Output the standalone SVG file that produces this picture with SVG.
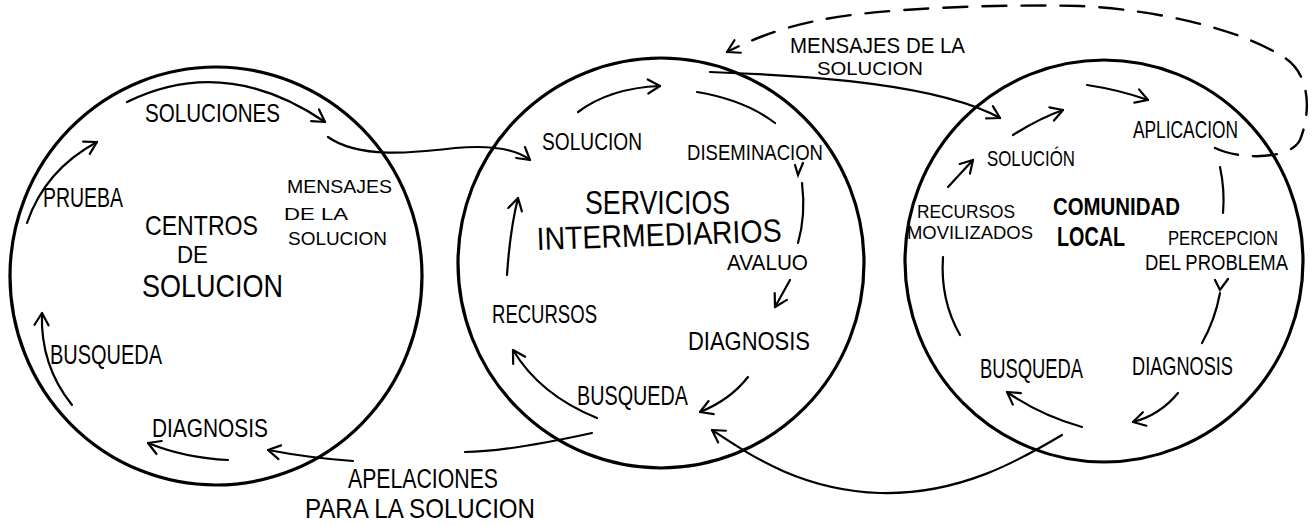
<svg xmlns="http://www.w3.org/2000/svg" width="1315" height="525" viewBox="0 0 1315 525">
<style>
.bg{fill:#fff}
.ring{fill:none;stroke:#000;stroke-width:3.2}
.arr{fill:none;stroke:#000;stroke-width:2.2;stroke-linecap:round}
.dash{fill:none;stroke:#000;stroke-width:2.4;stroke-dasharray:24 15;stroke-linecap:round}
text{font-family:"Liberation Sans","DejaVu Sans",sans-serif;fill:#000}
.b{font-weight:bold}
</style>
<defs>
<marker id="ah" markerUnits="userSpaceOnUse" markerWidth="16" markerHeight="16" refX="13" refY="7" orient="auto" overflow="visible">
<path d="M1,0 L13,7 L1,14" fill="none" stroke="#000" stroke-width="2.2" stroke-linecap="round" stroke-linejoin="round"/>
</marker>
</defs>
<rect class="bg" x="0" y="0" width="1315" height="525"/>

<g id="centros-de-solucion">
<ellipse class="ring" cx="216" cy="276" rx="206" ry="209"/>
<path class="arr" d="M127,102 Q225,54 325,122" marker-end="url(#ah)"/>
<path class="arr" d="M27,223 Q45,170 97,142" marker-end="url(#ah)"/>
<path class="arr" d="M72,405 Q40,365 42,313" marker-end="url(#ah)"/>
<path class="arr" d="M228,460 Q185,458 148,443" marker-end="url(#ah)"/>
<text x="145" y="122" font-size="25" textLength="135" lengthAdjust="spacingAndGlyphs">SOLUCIONES</text>
<text x="43" y="207" font-size="27" textLength="80" lengthAdjust="spacingAndGlyphs">PRUEBA</text>
<text x="145" y="235" font-size="28" textLength="113" lengthAdjust="spacingAndGlyphs">CENTROS</text>
<text x="177" y="263" font-size="24" textLength="31" lengthAdjust="spacingAndGlyphs">DE</text>
<text x="142" y="297" font-size="31" textLength="141" lengthAdjust="spacingAndGlyphs">SOLUCION</text>
<text x="287" y="193" font-size="19" textLength="105" lengthAdjust="spacingAndGlyphs">MENSAJES</text>
<text x="284" y="220" font-size="17" textLength="64" lengthAdjust="spacingAndGlyphs">DE  LA</text>
<text x="288" y="245" font-size="19" textLength="99" lengthAdjust="spacingAndGlyphs">SOLUCION</text>
<text x="50" y="364" font-size="28" textLength="112" lengthAdjust="spacingAndGlyphs">BUSQUEDA</text>
<text x="152" y="437" font-size="26" textLength="116" lengthAdjust="spacingAndGlyphs">DIAGNOSIS</text>
</g>

<g id="servicios-intermediarios">
<ellipse class="ring" cx="661" cy="263" rx="203" ry="205"/>
<path class="arr" d="M578,112 Q610,88 660,86" marker-end="url(#ah)"/>
<path class="arr" d="M697,92 Q745,100 775,123"/>
<polyline class="arr" points="795,165 798,175 803,163"/>
<path class="arr" d="M802,183 Q806,215 798,243"/>
<path class="arr" d="M790,280 L775,307" marker-end="url(#ah)"/>
<path class="arr" d="M748,377 Q730,400 700,412" marker-end="url(#ah)"/>
<path class="arr" d="M597,418 Q540,395 513,350" marker-end="url(#ah)"/>
<path class="arr" d="M507,275 Q510,230 518,198" marker-end="url(#ah)"/>
<text x="542" y="150" font-size="23" textLength="100" lengthAdjust="spacingAndGlyphs">SOLUCION</text>
<text x="687" y="160" font-size="22" textLength="136" lengthAdjust="spacingAndGlyphs">DISEMINACION</text>
<text x="585" y="214" font-size="34" textLength="145" lengthAdjust="spacingAndGlyphs">SERVICIOS</text>
<text x="537" y="250" font-size="32" textLength="245" lengthAdjust="spacingAndGlyphs" transform="rotate(-2 537 250)">INTERMEDIARIOS</text>
<text x="727" y="270" font-size="22" textLength="81" lengthAdjust="spacingAndGlyphs">AVALUO</text>
<text x="492" y="323" font-size="26" textLength="105" lengthAdjust="spacingAndGlyphs">RECURSOS</text>
<text x="688" y="350" font-size="26" textLength="122" lengthAdjust="spacingAndGlyphs">DIAGNOSIS</text>
<text x="577" y="405" font-size="27" textLength="111" lengthAdjust="spacingAndGlyphs">BUSQUEDA</text>
</g>

<g id="comunidad-local">
<ellipse class="ring" cx="1104" cy="261" rx="199" ry="201"/>
<path class="arr" d="M1013,135 Q1040,118 1063,110" marker-end="url(#ah)"/>
<path class="arr" d="M1087,85 Q1120,90 1148,100" marker-end="url(#ah)"/>
<path class="arr" d="M1220,167 Q1225,190 1223,213"/>
<polyline class="arr" points="1215,280 1220,290 1228,279"/>
<path class="arr" d="M1220,293 Q1215,320 1202,343"/>
<path class="arr" d="M1178,393 Q1160,415 1133,422" marker-end="url(#ah)"/>
<path class="arr" d="M1082,427 Q1040,415 1007,392" marker-end="url(#ah)"/>
<path class="arr" d="M960,335 Q940,300 943,257"/>
<path class="arr" d="M948,187 L973,160" marker-end="url(#ah)"/>
<text x="1133" y="138" font-size="23" textLength="105" lengthAdjust="spacingAndGlyphs">APLICACION</text>
<text x="987" y="166" font-size="22" textLength="88" lengthAdjust="spacingAndGlyphs">SOLUCIÓN</text>
<text class="b" x="1053" y="215" font-size="24" textLength="127" lengthAdjust="spacingAndGlyphs">COMUNIDAD</text>
<text class="b" x="1057" y="246" font-size="27" textLength="68" lengthAdjust="spacingAndGlyphs">LOCAL</text>
<text x="917" y="218" font-size="18" textLength="98" lengthAdjust="spacingAndGlyphs">RECURSOS</text>
<text x="907" y="239" font-size="18" textLength="126" lengthAdjust="spacingAndGlyphs">MOVILIZADOS</text>
<text x="1168" y="245" font-size="21" textLength="110" lengthAdjust="spacingAndGlyphs">PERCEPCION</text>
<text x="1145" y="270" font-size="22" textLength="143" lengthAdjust="spacingAndGlyphs">DEL PROBLEMA</text>
<text x="980" y="378" font-size="28" textLength="103" lengthAdjust="spacingAndGlyphs">BUSQUEDA</text>
<text x="1132" y="375" font-size="25" textLength="101" lengthAdjust="spacingAndGlyphs">DIAGNOSIS</text>
</g>

<g id="connectors">
<path class="arr" d="M328,137 C360,160 420,152 455,148 C490,145 515,148 530,160" marker-end="url(#ah)"/>
<path class="arr" d="M710,72 C820,76 940,85 1000,118" marker-end="url(#ah)"/>
<path class="dash" d="M1215,148 C1240,160 1290,160 1300,140 C1312,110 1310,70 1280,55 C1240,30 1160,10 1080,6 C1000,4 880,8 820,20 C790,26 760,35 727,52" marker-end="url(#ah)"/>
<path class="arr" d="M1062,435 C1020,460 960,495 880,493 C800,490 750,455 712,430" marker-end="url(#ah)"/>
<path class="arr" d="M592,433 C560,440 500,452 465,452"/>
<path class="arr" d="M353,461 Q310,458 268,450" marker-end="url(#ah)"/>
<text x="790" y="53" font-size="22" textLength="175" lengthAdjust="spacingAndGlyphs">MENSAJES DE LA</text>
<text x="817" y="75" font-size="19" textLength="106" lengthAdjust="spacingAndGlyphs">SOLUCION</text>
<text x="348" y="488" font-size="27" textLength="150" lengthAdjust="spacingAndGlyphs">APELACIONES</text>
<text x="305" y="518" font-size="28" textLength="230" lengthAdjust="spacingAndGlyphs">PARA LA SOLUCION</text>
</g>
</svg>
